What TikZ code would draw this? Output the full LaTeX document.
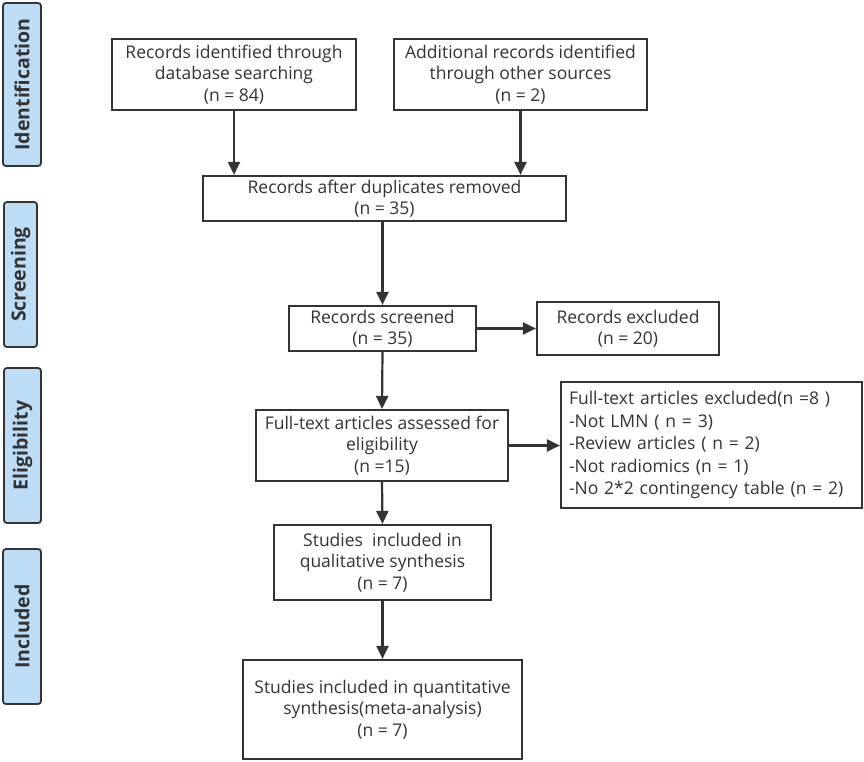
\documentclass[tikz,border=0pt]{standalone}
\usepackage{fontspec}
\setmainfont{Open Sans}
\usetikzlibrary{arrows.meta}
\definecolor{ink}{HTML}{333333}
\definecolor{band}{HTML}{BDDCF6}
\begin{document}
\begin{tikzpicture}[x=1pt,y=-1pt,
  box/.style={draw=ink,line width=2.2pt,fill=white,text=ink,align=center,inner sep=2pt,
    font=\fontsize{17.5}{21.5}\selectfont},
  phase/.style={draw=ink,line width=1.8pt,fill=band,rounded corners=3pt,rotate=90,text=ink,
    font=\fontsize{19.5}{22}\selectfont\bfseries,inner sep=0pt},
  conn/.style={draw=ink,line width=2.2pt,-{Triangle[length=13pt,width=12pt]}}]
\useasboundingbox (0,0) rectangle (864,762);
% phase bands
\node[phase,minimum width=163pt,minimum height=38pt] (ph1) at (22,84.5) {Identification};
\node[phase,minimum width=145pt,minimum height=33pt] (ph2) at (20.5,274.5) {Screening};
\node[phase,minimum width=155pt,minimum height=37pt] (ph3) at (22.5,445.5) {Eligibility};
\node[phase,minimum width=155pt,minimum height=38pt] (ph4) at (22,626.5) {Included};
% boxes
\node[box,minimum width=244pt,minimum height=71pt] (b1) at (234,74.5)
  {Records identified through\\database searching\\(n = 84)};
\node[box,minimum width=253pt,minimum height=71pt] (b2) at (520.5,74.5)
  {Additional records identified\\through other sources\\(n = 2)};
\node[box,minimum width=363pt,minimum height=45pt] (b3) at (384.5,198.5)
  {Records after duplicates removed\\(n = 35)};
\node[box,minimum width=187pt,minimum height=45pt] (b4) at (382.5,328.5)
  {Records screened\\(n = 35)};
\node[box,minimum width=182pt,minimum height=53pt] (b5) at (628,328.5)
  {Records excluded\\(n = 20)};
\node[box,minimum width=252pt,minimum height=71pt] (b6) at (382,445.5)
  {Full-text articles assessed for\\eligibility\\(n =15)};
\node[box,minimum width=301pt,minimum height=126pt,align=left,text width=285pt,
  font=\fontsize{17.5}{22.5}\selectfont] (b7) at (711.5,445)
  {Full-text articles excluded(n =8 )\\-Not LMN ( n = 3)\\-Review articles ( n = 2)\\-Not radiomics (n = 1)\\-No 2*2 contingency table (n = 2)};
\node[box,minimum width=217pt,minimum height=75pt] (b8) at (382.5,562.5)
  {Studies~ included in\\qualitative synthesis\\(n = 7)};
\node[box,minimum width=279pt,minimum height=99pt] (b9) at (382.5,709.5)
  {Studies included in quantitative\\synthesis(meta-analysis)\\(n = 7)};
% connectors
\draw[conn] (b1.south) -- (b1.south |- b3.north);
\draw[conn] (b2.south) -- (b2.south |- b3.north);
\draw[conn] (b4.north |- b3.south) -- (b4.north);
\draw[conn] (b4.south) -- (b6.north);
\draw[conn] (b4.east) -- (b4.east -| b5.west);
\draw[conn] (b6.east) -- (b6.east -| b7.west);
\draw[conn] (b6.south) -- (b8.north);
\draw[conn] (b8.south) -- (b9.north);
\end{tikzpicture}
\end{document}
